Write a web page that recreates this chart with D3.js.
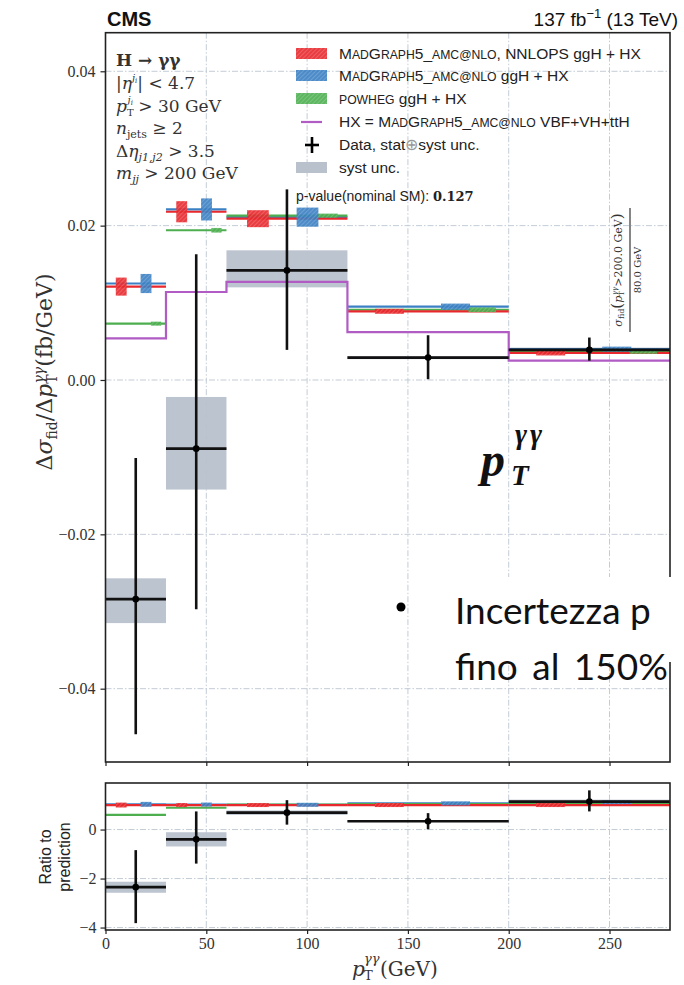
<!DOCTYPE html>
<html><head><meta charset="utf-8">
<script src="https://cdn.jsdelivr.net/npm/d3@7/dist/d3.min.js"></script>
<style>body{margin:0;background:#fff}svg{display:block}</style>
</head><body>
<svg id="c" width="684" height="985"></svg>
<script>
// ---------------- data ----------------
const binEdges = [0, 30, 60, 120, 200, 280];
const binCenters = [15, 45, 90, 160, 240];
const dataVal   = [-0.0284, -0.0089, 0.0142, 0.0029, 0.0039];
const dataErrHi = [-0.0101, 0.0163, 0.0247, 0.0058, 0.0055];
const dataErrLo = [-0.0459, -0.0297, 0.0039, 0.0001, 0.0025];
const systHi    = [-0.0257, -0.0022, 0.0168, 0.0031, 0.0042];
const systLo    = [-0.0315, -0.0142, 0.0120, 0.0027, 0.0036];
const nnlops    = [0.0121, 0.0218, 0.0209, 0.0089, 0.0035];
const nnlopsUnc = [0.00117, 0.00137, 0.0011, 0.0003, 0.0002];
const mg5       = [0.0125, 0.0221, 0.0211, 0.0095, 0.0040];
const mg5Unc    = [0.00124, 0.00143, 0.00124, 0.0004, 0.0002];
const powheg    = [0.0073, 0.0194, 0.0213, 0.0091, 0.0037];
const powhegUnc = [0.0002, 0.0003, 0.00026, 0.0003, 0.0003];
const hxOnly    = [0.0054, 0.0114, 0.0127, 0.0062, 0.0025];

// ratio panel
const ratioNnlops    = [1.0, 1.0, 1.0, 1.0, 1.0];
const ratioNnlopsUnc = [0.10, 0.06, 0.05, 0.035, 0.06];
const ratioMg5       = [1.03, 1.02, 1.01, 1.07, 1.12];
const ratioMg5Unc    = [0.10, 0.06, 0.06, 0.045, 0.06];
const ratioPowheg    = [0.60, 0.89, 1.02, 1.04, 1.07];
const ratioData      = [-2.35, -0.40, 0.69, 0.34, 1.14];
const ratioErrHi     = [-0.84, 0.74, 1.20, 0.67, 1.60];
const ratioErrLo     = [-3.82, -1.39, 0.20, 0.01, 0.74];
const ratioSystHi    = [-2.13, -0.11, 0.78, 0.37, 1.22];
const ratioSystLo    = [-2.58, -0.69, 0.60, 0.31, 1.06];

const xTicks = [0, 50, 100, 150, 200, 250];
const xTickLabels = ["0", "50", "100", "150", "200", "250"];
const yTicks = [-0.04, -0.02, 0, 0.02, 0.04];
const yTickLabels = ["\u22120.04", "\u22120.02", "0.00", "0.02", "0.04"];
const rTicks = [-4, -2, 0];
const rTickLabels = ["\u22124", "\u22122", "0"];

// ---------------- styles ----------------
const C = {red:"#e8282c", blue:"#3a80c4", green:"#4cae4f", purple:"#b15bc4", syst:"#b8c1cc", grid:"#c3ccd6"};
const serif = "'DejaVu Serif','Liberation Serif',serif";
const tickFont = "'Liberation Serif','DejaVu Serif',serif";
const sans = "'Liberation Sans',Arial,sans-serif";

const svg = d3.select("#c");
const defs = svg.append("defs");
function hatch(id, color){
  const p = defs.append("pattern").attr("id", id).attr("patternUnits","userSpaceOnUse")
    .attr("width",3).attr("height",3).attr("patternTransform","rotate(45)");
  p.append("rect").attr("width",3).attr("height",3).attr("fill",color).attr("opacity",0.9);
  p.append("line").attr("x1",0).attr("y1",0).attr("x2",0).attr("y2",3)
    .attr("stroke","#ffffff").attr("stroke-width",0.8).attr("opacity",0.45);
}
hatch("hRed", C.red); hatch("hBlue", C.blue); hatch("hGreen", C.green);

const X0 = 105.5, X1 = 670;
const x = d3.scaleLinear().domain([0, 280]).range([X0, X1]);
const y = d3.scaleLinear().domain([-0.0495, 0.0450]).range([762, 32.7]);
const yr = d3.scaleLinear().domain([-4.1, 1.9]).range([930, 783]);

const bins = d3.range(5).map(i => ({lo: binEdges[i], hi: binEdges[i+1], i}));

// ---------------- gridlines ----------------
function grid(g, ys, ysc, top, bottom){
  g.selectAll(".gx").data(xTicks.slice(1)).join("line")
    .attr("x1", d=>x(d)).attr("x2", d=>x(d)).attr("y1", top).attr("y2", bottom)
    .attr("stroke", C.grid).attr("stroke-width",1).attr("stroke-dasharray","6,2,1.5,2");
  g.selectAll(".gy").data(ys).join("line")
    .attr("x1", X0).attr("x2", X1).attr("y1", d=>ysc(d)).attr("y2", d=>ysc(d))
    .attr("stroke", C.grid).attr("stroke-width",1).attr("stroke-dasharray","6,2,1.5,2");
}
grid(svg.append("g"), yTicks, y, 32.7, 762);
grid(svg.append("g"), rTicks, yr, 783, 930);

// ---------------- main panel ----------------
const main = svg.append("g");
main.selectAll(".syst").data(bins).join("rect")
  .attr("x", d=>x(d.lo)).attr("width", d=>x(d.hi)-x(d.lo))
  .attr("y", d=>y(systHi[d.i])).attr("height", d=>y(systLo[d.i])-y(systHi[d.i]))
  .attr("fill", C.syst).attr("opacity",0.95);

function predLines(g, vals, sc, color, w){
  g.selectAll(null).data(bins).join("line")
    .attr("x1", d=>x(d.lo)).attr("x2", d=>x(d.hi))
    .attr("y1", d=>sc(vals[d.i])).attr("y2", d=>sc(vals[d.i]))
    .attr("stroke", color).attr("stroke-width", w);
}
function predBoxes(g, vals, unc, sc, pat, f0, f1, minH){
  const h = d => Math.max(minH, sc(vals[d.i]-unc[d.i])-sc(vals[d.i]+unc[d.i]));
  g.selectAll(null).data(bins).join("rect")
    .attr("x", d=>x(d.lo + f0*(d.hi-d.lo))).attr("width", d=>x(d.lo+f1*(d.hi-d.lo))-x(d.lo+f0*(d.hi-d.lo)))
    .attr("y", d=>sc(vals[d.i]) - h(d)/2).attr("height", h)
    .attr("fill", `url(#${pat})`);
}
predLines(main, mg5, y, C.blue, 2.2);
predLines(main, powheg, y, C.green, 2.2);
predLines(main, nnlops, y, C.red, 2.2);
predBoxes(main, powheg, powhegUnc, y, "hGreen", 0.75, 0.92, 4);
predBoxes(main, mg5, mg5Unc, y, "hBlue", 0.58, 0.76, 5);
predBoxes(main, nnlops, nnlopsUnc, y, "hRed", 0.17, 0.35, 5);

const stepPts = binEdges.map((e,k)=>[e, hxOnly[Math.min(k,4)]]);
main.append("path").datum(stepPts)
  .attr("d", d3.line().x(d=>x(d[0])).y(d=>y(d[1])).curve(d3.curveStepAfter))
  .attr("fill","none").attr("stroke", C.purple).attr("stroke-width",2.2);

function dataMarks(g, vals, hi, lo, sc){
  g.selectAll(null).data(bins).join("line")
    .attr("x1", d=>x(d.lo)).attr("x2", d=>x(d.hi))
    .attr("y1", d=>sc(vals[d.i])).attr("y2", d=>sc(vals[d.i]))
    .attr("stroke","#111").attr("stroke-width",2.6);
  g.selectAll(null).data(bins).join("line")
    .attr("x1", d=>x(binCenters[d.i])).attr("x2", d=>x(binCenters[d.i]))
    .attr("y1", d=>sc(hi[d.i])).attr("y2", d=>sc(lo[d.i]))
    .attr("stroke","#111").attr("stroke-width",2.6);
  g.selectAll(null).data(bins).join("circle")
    .attr("cx", d=>x(binCenters[d.i])).attr("cy", d=>sc(vals[d.i])).attr("r",3.3).attr("fill","#000");
}
dataMarks(main, dataVal, dataErrHi, dataErrLo, y);

svg.append("rect").attr("x",X0).attr("y",32.7).attr("width",X1-X0).attr("height",762-32.7)
  .attr("fill","none").attr("stroke","#222").attr("stroke-width",1.6);

const yAx = svg.append("g").attr("transform",`translate(${X0},0)`)
  .call(d3.axisLeft(y).tickValues(yTicks).tickFormat((d,i)=>yTickLabels[i]).tickSize(5).tickPadding(5));
yAx.select(".domain").remove();
yAx.selectAll("text").attr("font-family", tickFont).attr("font-size",16).attr("fill","#333");
yAx.selectAll("line").attr("stroke","#222").attr("stroke-width",1.2);
const xAxMain = svg.append("g").attr("transform",`translate(0,762)`)
  .call(d3.axisBottom(x).tickValues(xTicks).tickFormat("").tickSize(4));
xAxMain.select(".domain").remove();
xAxMain.selectAll("line").attr("stroke","#222").attr("stroke-width",1.2);

// ---------------- ratio panel ----------------
const rp = svg.append("g");
rp.selectAll(null).data(bins).join("rect")
  .attr("x", d=>x(d.lo)).attr("width", d=>x(d.hi)-x(d.lo))
  .attr("y", d=>yr(ratioSystHi[d.i])).attr("height", d=>yr(ratioSystLo[d.i])-yr(ratioSystHi[d.i]))
  .attr("fill", C.syst).attr("opacity",0.95);
predLines(rp, ratioMg5, yr, C.blue, 2.2);
predLines(rp, ratioPowheg, yr, C.green, 2.2);
predLines(rp, ratioNnlops, yr, C.red, 2.2);
predBoxes(rp, ratioMg5, ratioMg5Unc, yr, "hBlue", 0.58, 0.76, 4);
predBoxes(rp, ratioNnlops, ratioNnlopsUnc, yr, "hRed", 0.17, 0.35, 4);
dataMarks(rp, ratioData, ratioErrHi, ratioErrLo, yr);

svg.append("rect").attr("x",X0).attr("y",783).attr("width",X1-X0).attr("height",930-783)
  .attr("fill","none").attr("stroke","#222").attr("stroke-width",1.6);
const rAx = svg.append("g").attr("transform",`translate(${X0},0)`)
  .call(d3.axisLeft(yr).tickValues(rTicks).tickFormat((d,i)=>rTickLabels[i]).tickSize(5).tickPadding(4));
rAx.select(".domain").remove();
rAx.selectAll("text").attr("font-family", tickFont).attr("font-size",16).attr("fill","#333");
rAx.selectAll("line").attr("stroke","#222").attr("stroke-width",1.2);
const xAx = svg.append("g").attr("transform",`translate(0,930)`)
  .call(d3.axisBottom(x).tickValues(xTicks).tickFormat((d,i)=>xTickLabels[i]).tickSize(4).tickPadding(4));
xAx.select(".domain").remove();
xAx.selectAll("text").attr("font-family", tickFont).attr("font-size",16).attr("fill","#333");
xAx.selectAll("line").attr("stroke","#222").attr("stroke-width",1.2);

// ---------------- titles / labels ----------------
svg.append("text").attr("x",107).attr("y",26).attr("font-family",sans).attr("font-weight","bold")
  .attr("font-size",20).attr("fill","#111").text("CMS");
const lum = svg.append("text").attr("x",678).attr("y",26).attr("text-anchor","end")
  .attr("font-family",sans).attr("font-size",19).attr("fill","#111");
lum.append("tspan").text("137 fb");
lum.append("tspan").attr("dy",-8).attr("font-size",13).text("\u22121");
lum.append("tspan").attr("dy",8).text(" (13 TeV)");

// y label main
const yl = svg.append("text").attr("transform","translate(52,372) rotate(-90)").attr("text-anchor","middle")
  .attr("font-family",serif).attr("font-size",22).attr("fill","#333");
yl.append("tspan").text("\u0394");
yl.append("tspan").attr("font-style","italic").text("\u03c3");
yl.append("tspan").attr("font-size",14).attr("dy",5).text("fid");
yl.append("tspan").attr("dy",-5).text("/\u0394");
yl.append("tspan").attr("font-style","italic").text("p");
yl.append("tspan").attr("font-size",14).attr("dy",5).text("T");
yl.append("tspan").attr("font-size",14).attr("font-style","italic").attr("dx",-9).attr("dy",-13).text("\u03b3\u03b3");
yl.append("tspan").attr("dy",8).text("(fb/GeV)");

// ratio label
svg.append("text").attr("transform","translate(51,857) rotate(-90)").attr("text-anchor","middle")
  .attr("font-family",sans).attr("font-size",16).attr("fill","#222").text("Ratio to");
svg.append("text").attr("transform","translate(70,857) rotate(-90)").attr("text-anchor","middle")
  .attr("font-family",sans).attr("font-size",16).attr("fill","#222").text("prediction");

// x label (subscript and superscript stacked)
const xl = svg.append("g").attr("font-family",serif).attr("fill","#333");
xl.append("text").attr("x",352).attr("y",976).attr("font-size",20).attr("font-style","italic").text("p");
xl.append("text").attr("x",364).attr("y",980).attr("font-size",13).text("T");
xl.append("text").attr("x",364).attr("y",963).attr("font-size",13).attr("font-style","italic").text("\u03b3\u03b3");
xl.append("text").attr("x",380).attr("y",976).attr("font-size",20).text("(GeV)");

// ---------------- cuts text ----------------
const cut = svg.append("g").attr("font-family",serif).attr("font-size",17).attr("fill","#333");
const cx0 = 116;
let t;
t = cut.append("text").attr("x",cx0).attr("y",66).attr("font-weight","bold").text("H \u2192 \u03b3\u03b3");
t = cut.append("text").attr("x",cx0).attr("y",89);
t.append("tspan").text("|"); t.append("tspan").attr("font-style","italic").text("\u03b7");
t.append("tspan").attr("font-size",10).attr("dy",-8).attr("font-style","italic").text("j");
t.append("tspan").attr("font-size",7).attr("dy",2).attr("font-style","italic").text("i");
t.append("tspan").attr("dy",6).text("| < 4.7");
t = cut.append("text").attr("x",cx0).attr("y",112);
t.append("tspan").attr("font-style","italic").text("p");
t.append("tspan").attr("font-size",10).attr("dy",4).text("T");
t.append("tspan").attr("font-size",10).attr("font-style","italic").attr("dx",-6).attr("dy",-13).text("j");
t.append("tspan").attr("font-size",7).attr("dy",2).attr("font-style","italic").text("i");
t.append("tspan").attr("dy",7).text(" > 30 GeV");
t = cut.append("text").attr("x",cx0).attr("y",134);
t.append("tspan").attr("font-style","italic").text("n");
t.append("tspan").attr("font-size",11).attr("dy",4).text("jets");
t.append("tspan").attr("dy",-4).text(" \u2265 2");
t = cut.append("text").attr("x",cx0).attr("y",157);
t.append("tspan").text("\u0394"); t.append("tspan").attr("font-style","italic").text("\u03b7");
t.append("tspan").attr("font-size",11).attr("dy",4).attr("font-style","italic").text("j1,j2");
t.append("tspan").attr("dy",-4).text(" > 3.5");
t = cut.append("text").attr("x",cx0).attr("y",179);
t.append("tspan").attr("font-style","italic").text("m");
t.append("tspan").attr("font-size",11).attr("dy",4).attr("font-style","italic").text("jj");
t.append("tspan").attr("dy",-4).text(" > 200 GeV");

// ---------------- legend ----------------
const LF = 15.5, SC = 12.2;
const lg = svg.append("g").attr("font-family",sans).attr("font-size",LF).attr("fill","#222");
const lx = 296, lw = 31, tx = 339;
const rows = [54, 76, 99, 122, 145, 168];
["hRed","hBlue","hGreen"].forEach((p,k)=>{
  lg.append("rect").attr("x",lx).attr("y",rows[k]-6).attr("width",lw).attr("height",11).attr("fill",`url(#${p})`);
});
lg.append("line").attr("x1",lx+5).attr("x2",lx+26).attr("y1",rows[3]).attr("y2",rows[3]).attr("stroke",C.purple).attr("stroke-width",2.2);
lg.append("line").attr("x1",lx+9).attr("x2",lx+23).attr("y1",rows[4]).attr("y2",rows[4]).attr("stroke","#000").attr("stroke-width",2.6);
lg.append("line").attr("x1",lx+16).attr("x2",lx+16).attr("y1",rows[4]-8).attr("y2",rows[4]+8).attr("stroke","#000").attr("stroke-width",2.6);
lg.append("rect").attr("x",lx).attr("y",rows[5]-6).attr("width",lw).attr("height",11).attr("fill",C.syst);
function small(sel, s){ sel.append("tspan").attr("font-size",SC).text(s); }
function mgName(sel){
  sel.append("tspan").text("M"); small(sel,"AD"); sel.append("tspan").text("G"); small(sel,"RAPH");
  sel.append("tspan").text("5_"); small(sel,"AMC@NLO");
}
t = lg.append("text").attr("x",tx).attr("y",rows[0]+5); mgName(t); t.append("tspan").text(", NNLOPS ggH + HX");
t = lg.append("text").attr("x",tx).attr("y",rows[1]+5); mgName(t); t.append("tspan").text(" ggH + HX");
t = lg.append("text").attr("x",tx).attr("y",rows[2]+5); small(t,"POWHEG"); t.append("tspan").text(" ggH + HX");
t = lg.append("text").attr("x",tx).attr("y",rows[3]+5); t.append("tspan").text("HX = "); mgName(t); t.append("tspan").text(" VBF+VH+ttH");
t = lg.append("text").attr("x",tx).attr("y",rows[4]+5); t.append("tspan").text("Data, stat"); t.append("tspan").attr("fill","#999").text("\u2295"); t.append("tspan").text("syst unc.");
lg.append("text").attr("x",tx).attr("y",rows[5]+5).text("syst unc.");
t = lg.append("text").attr("x",296).attr("y",201).attr("font-size",14);
t.append("tspan").text("p-value(nominal SM): ");
t.append("tspan").attr("font-family",serif).attr("font-weight","bold").attr("font-size",13).text("0.127");

// ---------------- rotated fraction annotation ----------------
const fr = svg.append("g").attr("transform","translate(630,270) rotate(-90)")
  .attr("font-family",serif).attr("fill","#333");
fr.append("line").attr("x1",-62).attr("x2",62).attr("y1",0).attr("y2",0).attr("stroke","#222").attr("stroke-width",1.1);
t = fr.append("text").attr("x",0).attr("y",-8).attr("text-anchor","middle").attr("font-size",11);
t.append("tspan").attr("font-style","italic").text("\u03c3");
t.append("tspan").attr("font-size",8).attr("dy",2).text("fid");
t.append("tspan").attr("dy",-2).attr("font-size",15).text("(");
t.append("tspan").attr("font-style","italic").text("p");
t.append("tspan").attr("font-size",7).attr("dy",2).text("T");
t.append("tspan").attr("font-size",7).attr("dx",-4).attr("dy",-7).attr("font-style","italic").text("\u03b3\u03b3");
t.append("tspan").attr("dy",5).text(">200.0 GeV");
t.append("tspan").attr("font-size",15).text(")");
fr.append("text").attr("x",0).attr("y",11).attr("text-anchor","middle").attr("font-size",10).text("80.0 GeV");

// ---------------- slide overlay ----------------
const ovf = "'Liberation Serif','DejaVu Serif',serif";
const ov = svg.append("g").attr("font-family",ovf).attr("font-weight","bold").attr("font-style","italic").attr("fill","#111");
ov.append("text").attr("x",481).attr("y",476).attr("font-size",48).text("p");
ov.append("text").attr("x",511).attr("y",485).attr("font-size",29).text("T");
ov.append("text").attr("x",515).attr("y",444).attr("font-size",29).attr("letter-spacing",3).text("\u03b3\u03b3");

svg.append("rect").attr("x",452).attr("y",577).attr("width",232).attr("height",85).attr("fill","#fff");
svg.append("circle").attr("cx",401).attr("cy",607).attr("r",4.5).attr("fill","#000");
svg.append("text").attr("x",455).attr("y",624).attr("font-family","Lato,'Open Sans',sans-serif")
  .attr("font-size",37).attr("fill","#111").text("Incertezza p");
svg.append("text").attr("x",455).attr("y",680).attr("font-family","Lato,'Open Sans',sans-serif")
  .attr("font-size",37).attr("word-spacing",5).attr("fill","#111").text("fino al 150%");
</script>
</body></html>
